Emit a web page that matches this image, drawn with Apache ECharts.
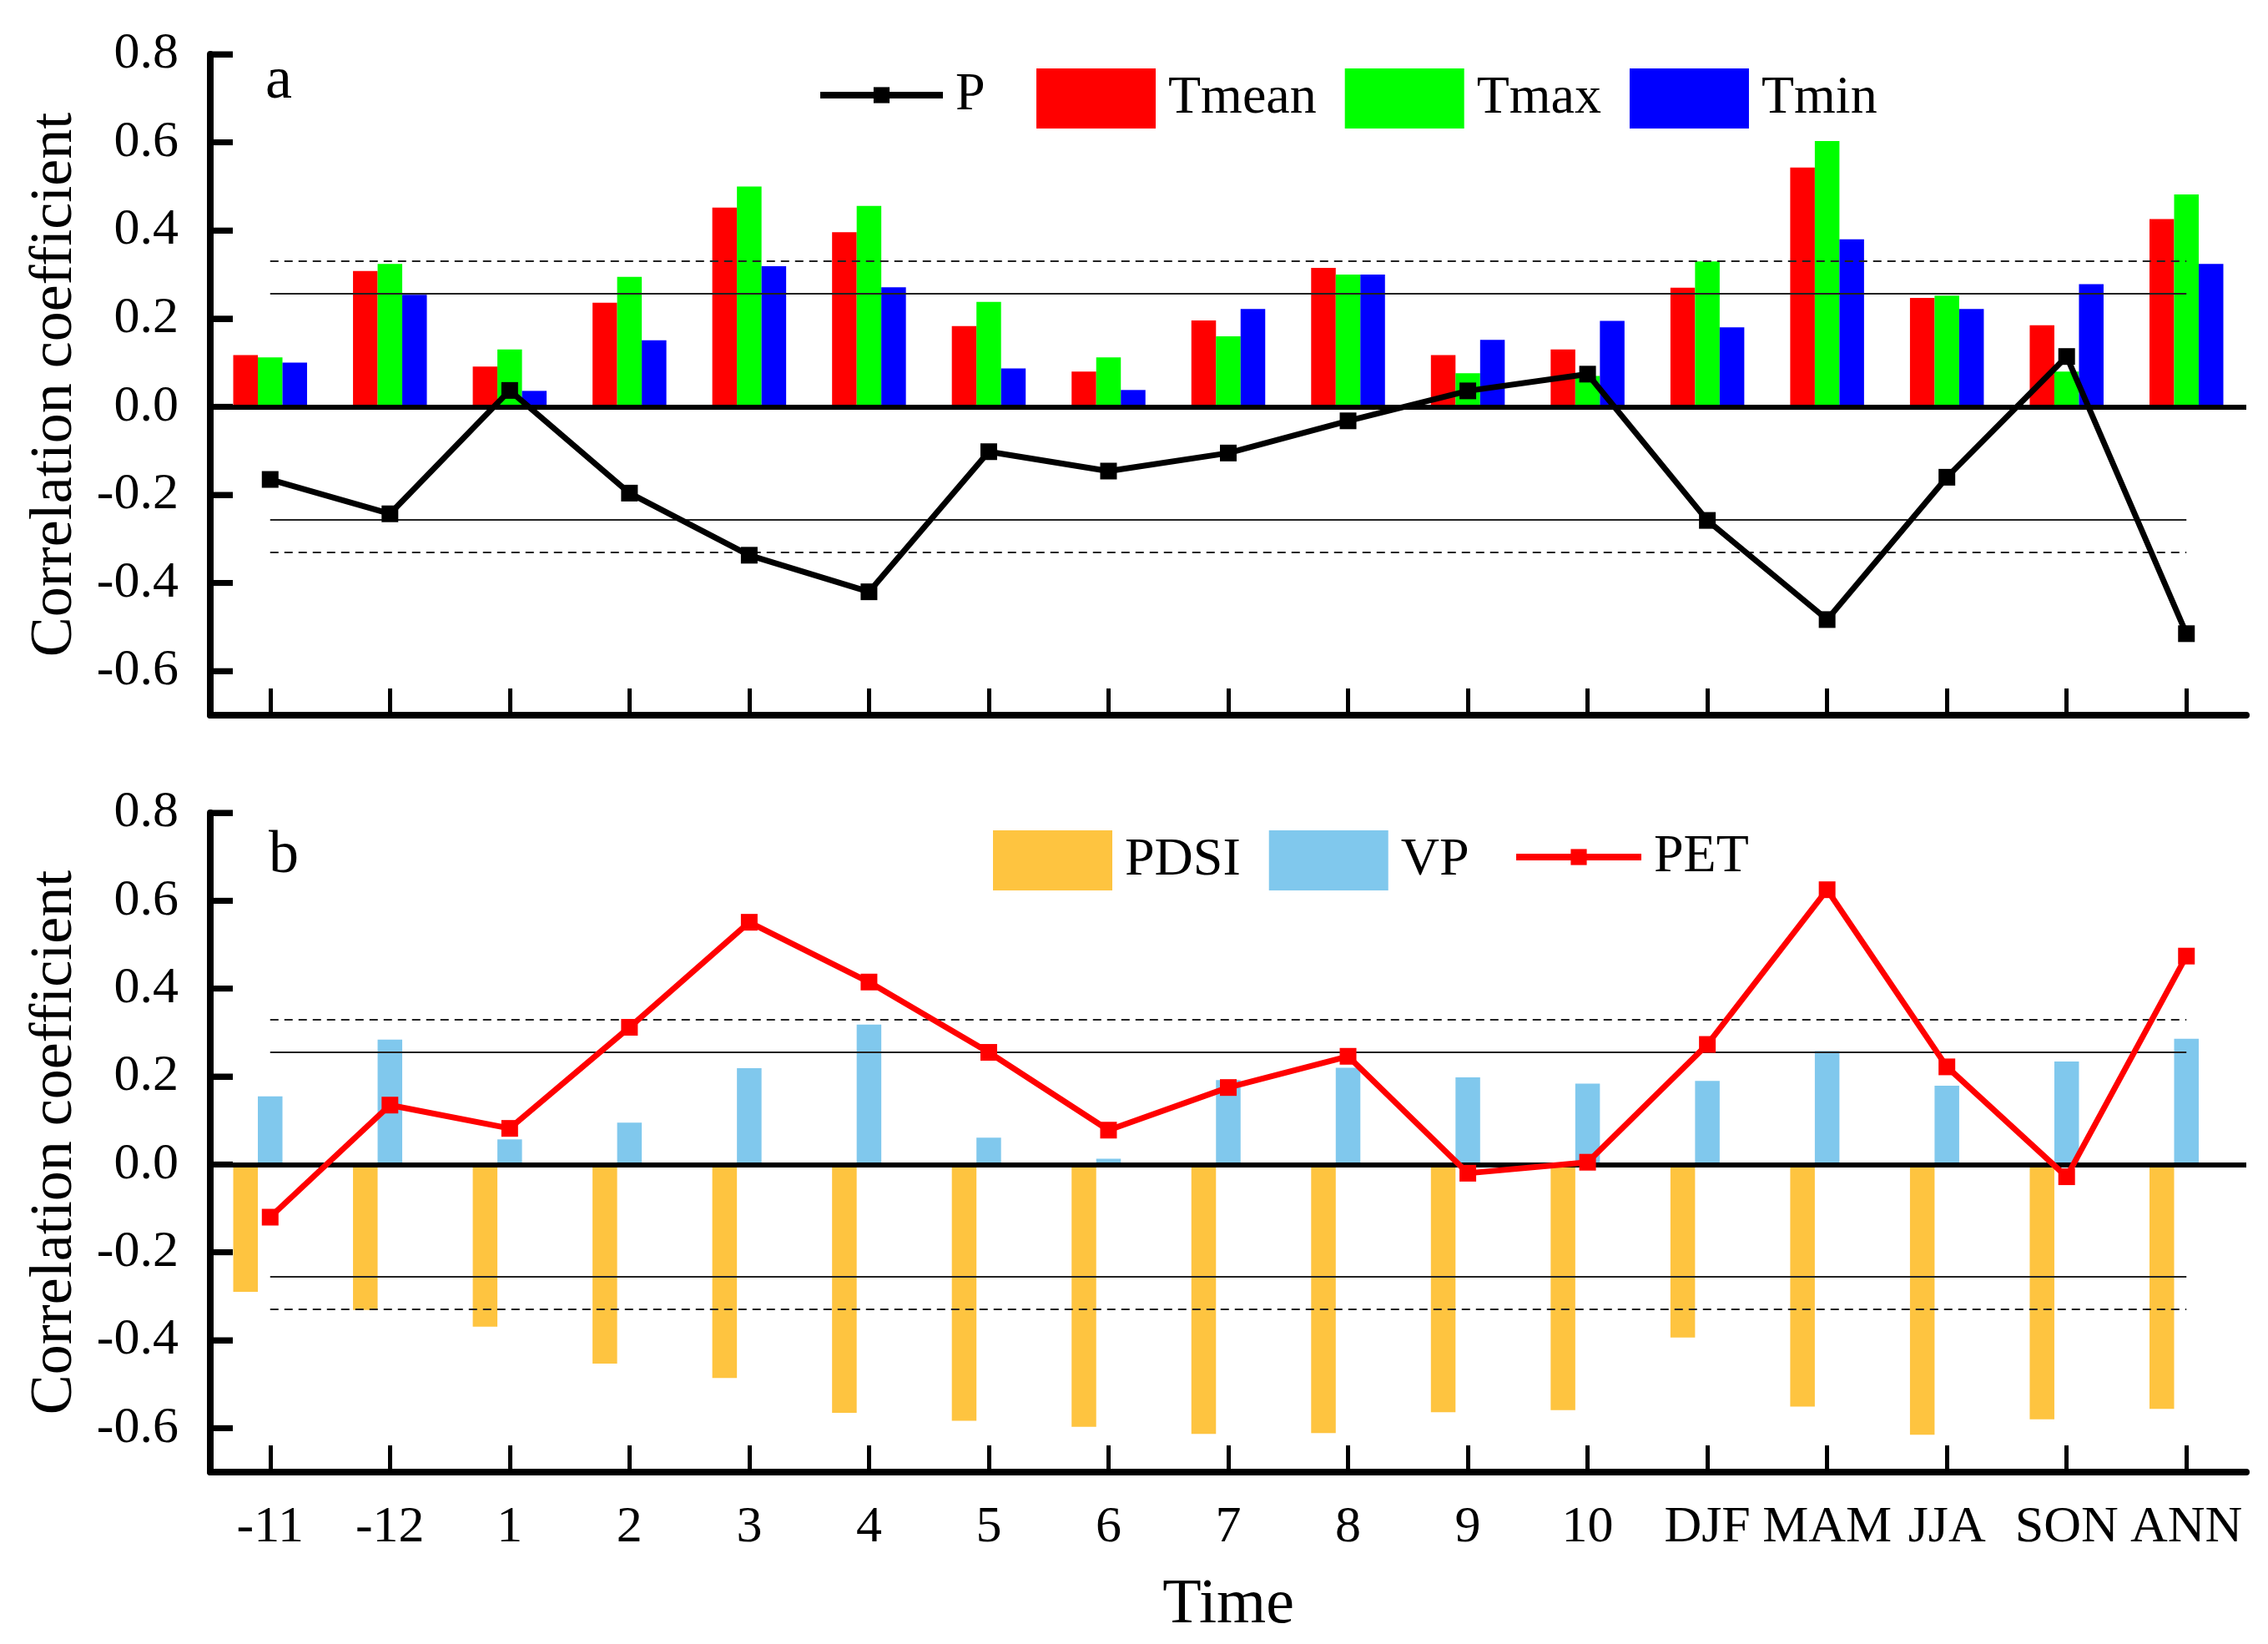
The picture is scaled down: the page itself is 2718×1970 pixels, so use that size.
<!DOCTYPE html>
<html>
<head>
<meta charset="utf-8">
<title>Correlation coefficient</title>
<script src="https://cdn.jsdelivr.net/npm/echarts@6/dist/echarts.min.js"></script>
<style>
    html, body { margin: 0; padding: 0; background: #fff; }
    #chart { width: 2718px; height: 1970px; }
</style>
</head>
<body>
<div id="chart"></div>
<script>

/* ===========================
   Data
=========================== */

const categories = ["-11", "-12", "1", "2", "3", "4", "5", "6", "7", "8", "9", "10",
    "DJF", "MAM", "JJA", "SON", "ANN"];

// panel a
const tmean = [0.117, 0.308, 0.091, 0.236, 0.452, 0.396, 0.183, 0.080, 0.196, 0.315, 0.117, 0.130,
    0.270, 0.543, 0.247, 0.185, 0.426];
const tmax = [0.112, 0.324, 0.130, 0.295, 0.500, 0.456, 0.238, 0.112, 0.160, 0.300, 0.076, 0.070,
    0.330, 0.603, 0.252, 0.080, 0.482];
const tmin = [0.100, 0.254, 0.036, 0.151, 0.319, 0.271, 0.087, 0.038, 0.222, 0.300, 0.152, 0.195,
    0.180, 0.380, 0.222, 0.278, 0.324];
const p = [-0.165, -0.243, 0.037, -0.196, -0.337, -0.420, -0.102, -0.146, -0.105, -0.032, 0.036, 0.074,
    -0.258, -0.483, -0.160, 0.114, -0.515];

// panel b
const pdsi = [-0.290, -0.331, -0.369, -0.453, -0.486, -0.565, -0.583, -0.597, -0.613, -0.611, -0.564, -0.559,
    -0.394, -0.551, -0.615, -0.580, -0.556];
const vp = [0.155, 0.284, 0.057, 0.095, 0.219, 0.318, 0.061, 0.013, 0.192, 0.220, 0.198, 0.184,
    0.190, 0.258, 0.179, 0.234, 0.286];
const pet = [-0.120, 0.135, 0.082, 0.312, 0.551, 0.415, 0.255, 0.078, 0.175, 0.246, -0.020, 0.005,
    0.273, 0.625, 0.222, -0.028, 0.474];

// significance levels
const sigSolid = 0.256;
const sigDash = 0.33;

// y range of each panel and its labelled ticks
const yMin = -0.7;
const yMax = 0.8;
const yTicks = [-0.6, -0.4, -0.2, 0.0, 0.2, 0.4, 0.6, 0.8];

/* ===========================
   Layout
=========================== */

const WIDTH = 2718;
const FONT = "Liberation Serif";
const LEFT = 252;
const RIGHT = 26;
const TICK_LEN = 27;
const TICK_W = 7;

// shift from the first category centre back to the y axis
const BAND = (WIDTH - LEFT - RIGHT) / categories.length;
const TICK_SHIFT = -BAND / 2 + TICK_LEN / 2;

/* ===========================
   Helpers
=========================== */

function hLine(value, type) {
    const first = categories[0];
    const last = categories[categories.length - 1];
    return [
        { coord: [first, value], lineStyle: { type: type, width: 2, color: "#222" } },
        { coord: [last, value] }
    ];
}

function sigLines() {
    return [
        hLine(sigSolid, "solid"),
        hLine(-sigSolid, "solid"),
        hLine(sigDash, [10, 7]),
        hLine(-sigDash, [10, 7]),
        { yAxis: 0, lineStyle: { type: "solid", width: 6, color: "#000" } }
    ];
}

function xAxis(gridIndex, showLabel) {
    return {
        type: "category",
        gridIndex: gridIndex,
        data: categories,
        boundaryGap: true,
        axisLine: { show: true, onZero: false, lineStyle: { color: "#000", width: 8 } },
        axisTick: {
            show: true,
            inside: true,
            length: 32,
            interval: 0,
            alignWithLabel: true,
            lineStyle: { width: 5, color: "#000" }
        },
        axisLabel: {
            show: showLabel,
            interval: 0,
            margin: 36,
            color: "#000",
            fontFamily: FONT,
            fontSize: 62
        },
        name: showLabel ? "Time" : "",
        nameLocation: "middle",
        nameGap: 122,
        nameTextStyle: { color: "#000", fontFamily: FONT, fontSize: 76 },
        splitLine: { show: false }
    };
}

function yAxis(gridIndex) {
    return {
        type: "value",
        gridIndex: gridIndex,
        min: yMin,
        max: yMax,
        axisLine: { show: true, lineStyle: { color: "#000", width: 8 } },
        axisTick: {
            show: true,
            inside: true,
            length: TICK_LEN,
            customValues: yTicks,
            lineStyle: { width: TICK_W, color: "#000" }
        },
        axisLabel: {
            customValues: yTicks,
            margin: 38,
            color: "#000",
            fontFamily: FONT,
            fontSize: 62,
            formatter: v => (Math.abs(v) < 1e-9 ? 0 : v).toFixed(1)
        },
        splitLine: { show: false },
        name: "Correlation coefficient",
        nameLocation: "middle",
        nameRotate: 90,
        nameGap: 150,
        nameTextStyle: { color: "#000", fontFamily: FONT, fontSize: 72 }
    };
}

// inward tick stubs on the y axis: flat rect symbols at the tick values
function yTickSeries(axis) {
    return {
        name: "yticks",
        type: "scatter",
        xAxisIndex: axis,
        yAxisIndex: axis,
        silent: true,
        clip: false,
        z: 6,
        data: yTicks.map(v => [0, v]),
        symbol: "rect",
        symbolSize: [TICK_LEN, TICK_W],
        symbolOffset: [TICK_SHIFT, 0],
        itemStyle: { color: "#000", opacity: 1 }
    };
}

function bar(name, data, color, axis) {
    return {
        name: name,
        type: "bar",
        xAxisIndex: axis,
        yAxisIndex: axis,
        data: data,
        barWidth: 29.5,
        barGap: "0%",
        itemStyle: { color: color },
        z: 2
    };
}

function line(name, data, color, axis) {
    return {
        name: name,
        type: "line",
        xAxisIndex: axis,
        yAxisIndex: axis,
        data: data,
        symbol: "rect",
        symbolSize: 20,
        lineStyle: { color: color, width: 7 },
        itemStyle: { color: color },
        z: 5,
        markLine: {
            silent: true,
            symbol: "none",
            label: { show: false },
            animation: false,
            data: sigLines()
        }
    };
}

function legend(names, left, top, w, h) {
    return {
        data: names,
        left: left,
        top: top,
        orient: "horizontal",
        icon: h > 40 ? "rect" : undefined,
        itemWidth: w,
        itemHeight: h,
        itemGap: 34,
        padding: 0,
        selectedMode: false,
        lineStyle: { width: 8 },
        textStyle: { color: "#000", fontFamily: FONT, fontSize: 64, padding: [0, 0, 0, 10] }
    };
}

/* ===========================
   Chart
=========================== */

const chart = echarts.init(document.getElementById("chart"));

chart.setOption({

    animation: false,
    backgroundColor: "#fff",

    title: [
        { text: "a", left: 318, top: 62, padding: 0, textStyle: { fontFamily: FONT, fontSize: 72, fontWeight: "normal", color: "#000" } },
        { text: "b", left: 322, top: 990, padding: 0, textStyle: { fontFamily: FONT, fontSize: 72, fontWeight: "normal", color: "#000" } }
    ],

    legend: [
        legend(["P"], 979, 82, 147, 24),
        legend(["Tmean", "Tmax", "Tmin"], 1242, 82, 143, 72),
        legend(["PDSI", "VP"], 1190, 995, 143, 72),
        legend(["PET"], 1813, 995, 150, 24)
    ],

    grid: [
        { left: LEFT, right: RIGHT, top: 65, height: 792 },
        { left: LEFT, right: RIGHT, top: 974, height: 790 }
    ],

    xAxis: [xAxis(0, false), xAxis(1, true)],
    yAxis: [yAxis(0), yAxis(1)],

    series: [
        bar("Tmean", tmean, "#ff0000", 0),
        bar("Tmax", tmax, "#00ff00", 0),
        bar("Tmin", tmin, "#0000ff", 0),
        line("P", p, "#000000", 0),
        yTickSeries(0),

        bar("PDSI", pdsi, "#fec440", 1),
        bar("VP", vp, "#80c8ed", 1),
        // empty third slot keeps the pair left of centre, as in the figure
        bar("", [], "#fff", 1),
        line("PET", pet, "#ff0000", 1),
        yTickSeries(1)
    ]

});

</script>
</body>
</html>
